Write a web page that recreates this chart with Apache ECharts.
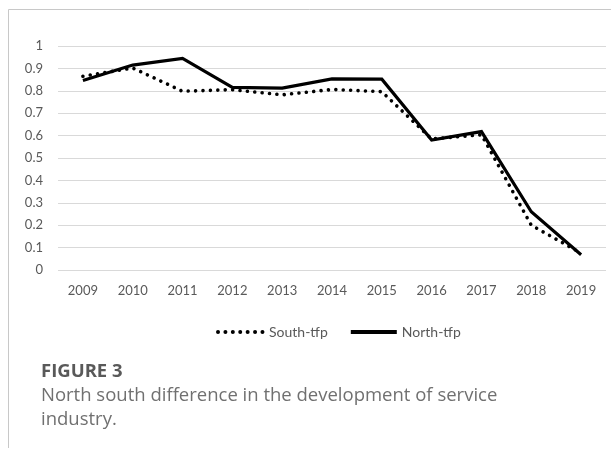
<!DOCTYPE html>
<html>
<head>
<meta charset="utf-8">
<style>
  html, body { margin: 0; padding: 0; background: #fff; }
  #chart { width: 611px; height: 450px; }
</style>
<script src="https://cdn.jsdelivr.net/npm/echarts@6/dist/echarts.min.js"></script>
</head>
<body>
<div id="chart"></div>
<script>
// Service-industry TFP, 2009–2019
const years = ['2009', '2010', '2011', '2012', '2013', '2014', '2015', '2016', '2017', '2018', '2019'];
const southTfp = [0.865, 0.902, 0.798, 0.805, 0.782, 0.806, 0.796, 0.585, 0.604, 0.200, 0.075];
const northTfp = [0.846, 0.915, 0.945, 0.815, 0.812, 0.853, 0.852, 0.580, 0.618, 0.260, 0.068];
const yTicks = [0, 0.1, 0.2, 0.3, 0.4, 0.5, 0.6, 0.7, 0.8, 0.9, 1];

const captionTitle = 'FIGURE 3';
const captionLines = ['North south difference in the development of service', 'industry.'];

const chart = echarts.init(document.getElementById('chart'), null, { renderer: 'canvas' });

const axisFont = 'Lato, "Open Sans", sans-serif';
const captionFont = '"Open Sans", Lato, sans-serif';

chart.setOption({
  animation: false,
  backgroundColor: '#ffffff',
  grid: { left: 58, right: 5, top: 46, bottom: 180, containLabel: false },
  xAxis: {
    type: 'category',
    data: years,
    boundaryGap: true,
    axisLine: { show: false },
    axisTick: { show: false },
    axisLabel: { color: '#595959', fontSize: 13, fontFamily: axisFont, margin: 14 }
  },
  yAxis: {
    type: 'value',
    min: yTicks[0],
    max: yTicks[yTicks.length - 1],
    interval: 0.1,
    axisLine: { show: false },
    axisTick: { show: false },
    axisLabel: {
      color: '#595959', fontSize: 13, fontFamily: axisFont, margin: 15,
      formatter: v => String(Math.round(v * 10) / 10)
    },
    splitLine: { lineStyle: { color: '#d9d9d9', width: 1.2 } }
  },
  legend: {
    top: 320,
    left: 211,
    itemGap: 21,
    itemWidth: 46,
    itemHeight: 14,
    itemStyle: { opacity: 0 },
    lineStyle: { width: 4 },
    textStyle: { color: '#595959', fontSize: 14, fontFamily: axisFont },
    data: ['South-tfp', 'North-tfp']
  },
  series: [
    {
      name: 'South-tfp',
      type: 'line',
      data: southTfp,
      symbol: 'none',
      lineStyle: { color: '#000', width: 3.6, type: [0.01, 7.4], cap: 'round' },
      itemStyle: { color: '#000' },
      z: 2
    },
    {
      name: 'North-tfp',
      type: 'line',
      data: northTfp,
      symbol: 'none',
      lineStyle: { color: '#000', width: 3.2, join: 'miter' },
      itemStyle: { color: '#000' },
      z: 3
    }
  ],
  graphic: [
    { type: 'line', shape: { x1: 8.5, y1: 9.5, x2: 611, y2: 9.5 }, style: { stroke: '#c8c8c8', lineWidth: 1 }, silent: true },
    { type: 'line', shape: { x1: 8.5, y1: 9.5, x2: 8.5, y2: 448 }, style: { stroke: '#c8c8c8', lineWidth: 1 }, silent: true },
    { type: 'text', left: 41, top: 362, style: { text: captionTitle, fill: '#595959', font: 'bold 18.5px ' + captionFont }, silent: true },
    { type: 'text', left: 41, top: 384, style: { text: captionLines.join('\n'), fill: '#707070', font: '18.5px ' + captionFont, lineHeight: 24 }, silent: true }
  ]
});
</script>
</body>
</html>
